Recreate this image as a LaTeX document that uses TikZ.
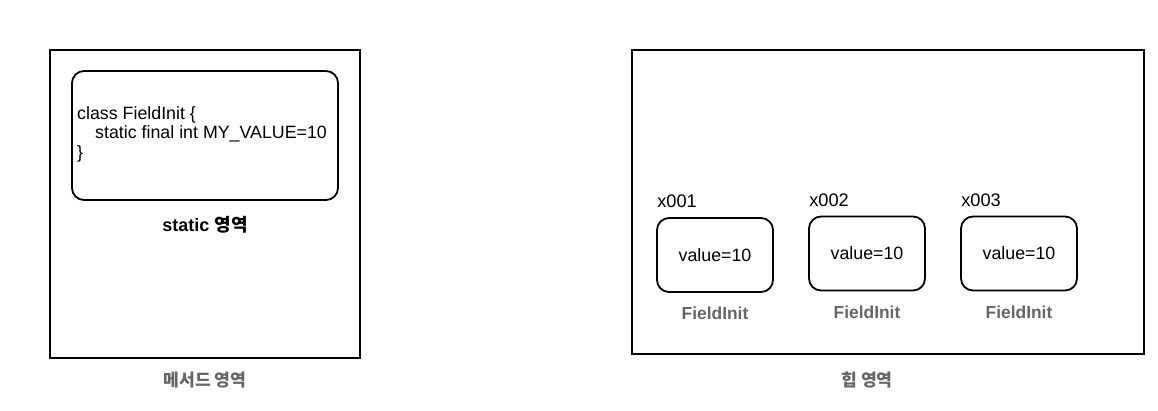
\documentclass[tikz,border=0pt]{standalone}
\usepackage{fontspec}
\setmainfont{Liberation Sans}
\newfontfamily\kofont{Noto Sans CJK KR}
\usepackage{xcolor}
\usetikzlibrary{positioning}
\definecolor{labelgray}{HTML}{666666}

\begin{document}
\begin{tikzpicture}[
    x=1pt, y=-1pt,
    area/.style={draw=black, line width=2.4pt},
    objbox/.style={
        rectangle, rounded corners=12pt,
        draw=black, line width=1.8pt,
        minimum width=116pt, minimum height=74pt,
        font=\fontsize{17.8}{20}\selectfont
    },
    addr/.style={inner sep=0pt, anchor=south west, font=\fontsize{18.2}{20}\selectfont},
    clsname/.style={inner sep=0pt, text=labelgray, font=\fontsize{17.4}{20}\selectfont\bfseries},
    arealabel/.style={inner sep=0pt, text=labelgray, font=\fontsize{17.2}{20}\selectfont\kofont\bfseries},
]
\useasboundingbox (0,0) rectangle (1158,410);

% method area
\draw[area] (50,50) rectangle (360,358);
\node[objbox, minimum width=266pt, minimum height=129pt] (cls) at (205,135.5) {};
\node[inner sep=0pt, anchor=west, align=left, font=\fontsize{17.8}{19.5}\selectfont] (code) at (77,134) {%
  class FieldInit \{\\
  \hspace*{18pt}static final int MY\_VALUE=10\\
  \}};
\node[inner sep=0pt, font=\fontsize{18}{20}\selectfont\bfseries] (stat) at (205,225) {static {\kofont 영역}};
\node[arealabel] (method) at (205,380) {메서드 영역};

% heap area
\draw[area] (632,50) rectangle (1144,354);
\foreach \n/\x/\y in {1/715/255, 2/867/253.5, 3/1019/253.5} {
  \node[objbox] (b\n) at (\x,\y) {value=10};
  \node[addr] (a\n) at ([xshift=1pt, yshift=9pt]b\n.north west) {x00\n};
  \node[clsname, below=14pt of b\n] (c\n) {FieldInit};
}
\node[arealabel] (heap) at (867,380) {힙 영역};

\end{tikzpicture}
\end{document}
